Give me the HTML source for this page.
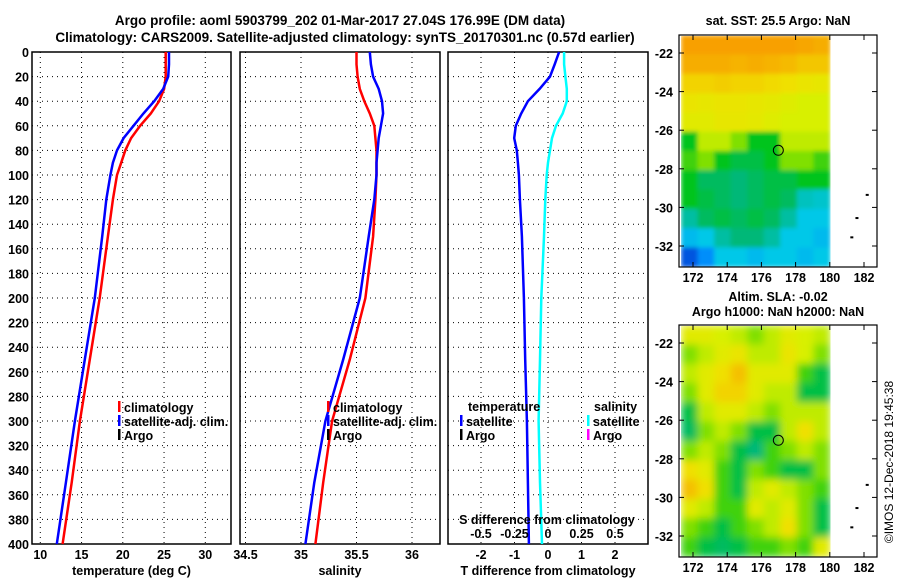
<!DOCTYPE html>
<html><head><meta charset="utf-8"><style>
body{margin:0;background:#fff;}
svg text{font-family:"Liberation Sans",sans-serif;font-weight:bold;font-size:12.5px;fill:#000;}
</style></head><body>
<svg id="c" width="900" height="580" viewBox="0 0 900 580" xmlns="http://www.w3.org/2000/svg">
<text x="340" y="25" text-anchor="middle" style="font-size:13.5px">Argo profile: aoml 5903799_202 01-Mar-2017 27.04S 176.99E (DM data)</text>
<text x="345" y="42" text-anchor="middle" style="font-size:13.5px">Climatology: CARS2009. Satellite-adjusted climatology: synTS_20170301.nc (0.57d earlier)</text>
<text x="778" y="25" text-anchor="middle">sat. SST: 25.5 Argo: NaN</text>
<text x="778" y="301" text-anchor="middle">Altim. SLA: -0.02</text>
<text x="778" y="316" text-anchor="middle">Argo h1000: NaN h2000: NaN</text>
<text transform="translate(893,462) rotate(-90)" text-anchor="middle" style="font-weight:normal;font-size:12px">©IMOS 12-Dec-2018 19:45:38</text>
</svg>
<script>
// ---- data ----
const depths = [0,10,20,30,40,50,60,70,80,90,100,120,150,200,250,300,350,400];
const tempClim = [25.2,25.2,25.2,25.0,24.4,23.4,22.1,21.0,20.3,19.8,19.3,18.8,18.2,17.2,16.0,14.8,13.8,12.7];
const tempSat  = [25.6,25.6,25.5,24.9,23.8,22.5,21.3,20.1,19.3,18.8,18.5,18.0,17.5,16.6,15.4,14.2,13.1,12.0];
const salClim = [35.50,35.50,35.51,35.53,35.57,35.62,35.66,35.67,35.68,35.68,35.68,35.67,35.65,35.58,35.44,35.28,35.20,35.13];
const salSat  = [35.62,35.63,35.65,35.70,35.73,35.74,35.72,35.70,35.69,35.68,35.68,35.66,35.61,35.53,35.38,35.22,35.12,35.04];
const tDiff = [0.33,0.20,0.06,-0.25,-0.60,-0.80,-0.96,-1.01,-0.93,-0.90,-0.87,-0.84,-0.78,-0.72,-0.68,-0.63,-0.60,-0.57];
const sDiff = [0.12,0.12,0.13,0.14,0.14,0.11,0.06,0.03,0.015,0.0,-0.01,-0.02,-0.03,-0.05,-0.06,-0.07,-0.06,-0.045];
const depthTicks = [0,20,40,60,80,100,120,140,160,180,200,220,240,260,280,300,320,340,360,380,400];
const tempTicks = [10,15,20,25,30];
const salTicks = [34.5,35,35.5,36];
const tdTicks = [-2,-1,0,1,2];
const sdTicks = [-0.5,-0.25,0,0.25,0.5];
const latTicks = [-22,-24,-26,-28,-30,-32];
const lonTicks = [172,174,176,178,180,182];
const sstGrid = [
[0.80,0.80,0.80,0.80,0.80,0.80,0.80,0.79,0.78],
[0.78,0.78,0.78,0.77,0.78,0.77,0.76,0.74,0.74],
[0.72,0.72,0.73,0.72,0.72,0.71,0.70,0.68,0.67],
[0.68,0.67,0.68,0.68,0.67,0.66,0.64,0.62,0.62],
[0.65,0.65,0.67,0.67,0.66,0.64,0.62,0.62,0.62],
[0.45,0.60,0.60,0.55,0.45,0.45,0.60,0.60,0.60],
[0.50,0.55,0.45,0.42,0.42,0.45,0.55,0.55,0.50],
[0.45,0.40,0.40,0.38,0.40,0.42,0.42,0.45,0.45],
[0.45,0.42,0.40,0.38,0.40,0.42,0.40,0.33,0.32],
[0.35,0.40,0.42,0.40,0.42,0.40,0.35,0.30,0.30],
[0.28,0.30,0.35,0.38,0.38,0.35,0.30,0.30,0.28],
[0.15,0.22,0.30,0.30,0.28,0.30,0.30,0.28,0.30]];
const slaGrid = [
[0.65,0.65,0.62,0.60,0.55,0.60,0.65,0.62,0.60],
[0.55,0.60,0.65,0.68,0.60,0.60,0.68,0.62,0.55],
[0.60,0.65,0.70,0.75,0.65,0.65,0.65,0.50,0.42],
[0.55,0.65,0.72,0.72,0.65,0.60,0.60,0.42,0.42],
[0.42,0.60,0.65,0.65,0.60,0.55,0.60,0.60,0.60],
[0.40,0.55,0.60,0.55,0.42,0.42,0.60,0.70,0.60],
[0.55,0.60,0.55,0.42,0.38,0.50,0.55,0.60,0.55],
[0.70,0.65,0.50,0.42,0.55,0.50,0.42,0.42,0.55],
[0.75,0.70,0.50,0.42,0.60,0.65,0.60,0.55,0.50],
[0.65,0.60,0.50,0.50,0.65,0.60,0.65,0.55,0.42],
[0.55,0.50,0.42,0.50,0.55,0.60,0.70,0.55,0.42],
[0.50,0.42,0.40,0.42,0.50,0.50,0.55,0.50,0.65]];
const argoLon = 176.99, argoLat = -27.04;

const svg = document.getElementById('c');
const NS = 'http://www.w3.org/2000/svg';
function mk(tag, attrs, parent){const e=document.createElementNS(NS,tag);for(const k in attrs)e.setAttribute(k,attrs[k]);(parent||svg).appendChild(e);return e;}
const yD = d => 52 + d*1.23;

function panel(name, x0, x1, xs, xticks, xlabel, fmt){
  const g = mk('g',{});
  
  
  depthTicks.forEach(d=>{
    const l = mk('line',{x1:x0,x2:x1,y1:yD(d),y2:yD(d),stroke:'#000','stroke-width':1,'stroke-dasharray':'1,4'},g);
    
    
  });
  xticks.forEach(v=>{
    const l = mk('line',{x1:xs(v),x2:xs(v),y1:52,y2:544,stroke:'#000','stroke-width':1,'stroke-dasharray':'1,4'},g);
    
    
    if(fmt){
      const t = mk('text',{x:xs(v),y:559,'text-anchor':'middle'},g);
      t.textContent = fmt(v);
      
      
    }
  });
  const r = mk('rect',{x:x0,y:52,width:x1-x0,height:492,fill:'none',stroke:'#000','stroke-width':1.5},g);
  
  
  const t = mk('text',{x:(x0+x1)/2,y:575,'text-anchor':'middle'},g);
  t.textContent = xlabel;
  
  
  return g;
}
function line(g, vals, xs, color, name){
  const p = mk('polyline',{points:vals.map((v,i)=>xs(v).toFixed(1)+','+yD(depths[i]).toFixed(1)).join(' '),fill:'none',stroke:color,'stroke-width':2.5},g);
  
  
}
function legendItem(x,y,color,label,parent){
  const m = mk('rect',{x:x-1,y:y-6,width:2.5,height:11,fill:color},parent);
  
  
  const t = mk('text',{x:x+5,y:y+5},parent);
  t.textContent = label;
  
  
}

depthTicks.forEach(d=>{
  const t = mk('text',{x:29,y:yD(d)+5,'text-anchor':'end'});
  t.textContent = d;
  
  
});

const xT = v => 40.3 + (v-10)*8.25;
const g1 = panel('temperature-panel',32,231,xT,tempTicks,'temperature (deg C)',v=>v);
line(g1,tempClim,xT,'#f00','temperature-climatology-line');
line(g1,tempSat,xT,'#00f','temperature-satellite-line');
legendItem(119,407,'#f00','climatology',g1);
legendItem(119,421,'#00f','satellite-adj. clim.',g1);
legendItem(119,435,'#000','Argo',g1);

const xS = v => 301 + (v-35)*111;
const g2 = panel('salinity-panel',240,440,xS,salTicks,'salinity',v=>v);
line(g2,salClim,xS,'#f00','salinity-climatology-line');
line(g2,salSat,xS,'#00f','salinity-satellite-line');
legendItem(328,407,'#f00','climatology',g2);
legendItem(328,421,'#00f','satellite-adj. clim.',g2);
legendItem(328,435,'#000','Argo',g2);

const xTd = v => 548 + v*33.5;
const xSd = v => 548 + v*134;
const g3 = panel('difference-panel',448,648,xTd,tdTicks,'T difference from climatology',v=>v);
line(g3,tDiff,xTd,'#00f','temperature-difference-line');
line(g3,sDiff,xSd,'#0ff','salinity-difference-line');
sdTicks.forEach(v=>{
  const t = mk('text',{x:xSd(v),y:538,'text-anchor':'middle'},g3);
  t.textContent = v;
  
  
});
const st = mk('text',{x:547,y:524,'text-anchor':'middle'},g3);
st.textContent = 'S difference from climatology';


const lt1 = mk('text',{x:468,y:411},g3);
lt1.textContent='temperature';


const lt2 = mk('text',{x:594,y:411},g3);
lt2.textContent='salinity';


legendItem(461,421,'#00f','satellite',g3);
legendItem(461,435,'#000','Argo',g3);
legendItem(588,421,'#0ff','satellite',g3);
legendItem(588,435,'#f0f','Argo',g3);

const stops=[[0.10,[0,40,190]],[0.20,[0,128,255]],[0.30,[0,200,232]],[0.38,[0,184,120]],[0.45,[0,196,30]],[0.55,[128,224,0]],[0.62,[216,240,0]],[0.70,[240,224,0]],[0.80,[248,160,0]]];
function cmap(v){
  if(v<=stops[0][0])return 'rgb('+stops[0][1]+')';
  for(let i=1;i<stops.length;i++){if(v<=stops[i][0]){const a=stops[i-1],b=stops[i],f=(v-a[0])/(b[0]-a[0]);return 'rgb('+a[1].map((c,k)=>Math.round(c+(b[1][k]-c)*f)).join(',')+')';}}
  return 'rgb('+stops[stops.length-1][1]+')';
}
const defs = mk('defs',{});
const f = mk('filter',{id:'blur',x:'0',y:'0',width:'1',height:'1'},defs);
mk('feGaussianBlur',{stdDeviation:4,edgeMode:'duplicate'},f);
const f2 = mk('filter',{id:'blur2',x:'0',y:'0',width:'1',height:'1'},defs);
mk('feGaussianBlur',{stdDeviation:2,edgeMode:'duplicate'},f2);
const cp1 = mk('clipPath',{id:'clip1'},defs); mk('rect',{x:681,y:36,width:151,height:231},cp1);
const cp2 = mk('clipPath',{id:'clip2'},defs); mk('rect',{x:681,y:326,width:151,height:231},cp2);

function map(name, grid, top, filt, clip){
  const g = mk('g',{});
  
  
  const lonX = v => 693 + (v-172)*17.1;
  const latY = v => top+18 + (-22-v)*19.3;
  const lon0=171.3, lat0=-21.07;
  const clipG = mk('g',{'clip-path':'url(#'+clip+')'},g);
  const cells = mk('g',{filter:'url(#'+filt+')'},clipG);
  grid.forEach((row,r)=>row.forEach((v,c)=>{
    const x=lonX(lon0+c*0.967), y=latY(lat0-r*1.0);
    const rc = mk('rect',{x:x.toFixed(1),y:y.toFixed(1),width:17.2,height:20,fill:cmap(v)},cells);
    
    
  }));
  mk('rect',{x:832,y:top,width:45,height:233,fill:'#fff'},g);
  const fr = mk('rect',{x:679,y:top,width:198,height:232,fill:'none',stroke:'#000','stroke-width':1.2},g);
  
  
  latTicks.forEach(v=>{
    mk('line',{x1:679,x2:684,y1:latY(v),y2:latY(v),stroke:'#000'},g);
    mk('line',{x1:872,x2:877,y1:latY(v),y2:latY(v),stroke:'#000'},g);
    const t = mk('text',{x:673,y:latY(v)+5,'text-anchor':'end'},g);
    t.textContent = v;
    
    
  });
  lonTicks.forEach(v=>{
    mk('line',{x1:lonX(v),x2:lonX(v),y1:top,y2:top+5,stroke:'#000'},g);
    mk('line',{x1:lonX(v),x2:lonX(v),y1:top+227,y2:top+232,stroke:'#000'},g);
    const t = mk('text',{x:lonX(v),y:top+247,'text-anchor':'middle'},g);
    t.textContent = v;
    
    
  });
  const ci = mk('circle',{cx:lonX(argoLon),cy:latY(argoLat),r:5,fill:'none',stroke:'#000','stroke-width':1},g);
  
  
  [[182.1,-29.3],[181.5,-30.5],[181.2,-31.5]].forEach(p=>{
    const is = mk('rect',{x:lonX(p[0]),y:latY(p[1]),width:3,height:2,fill:'#000'},g);
    
    
  });
}
map('sst-map', sstGrid, 35, 'blur2', 'clip1');
map('sla-map', slaGrid, 325, 'blur', 'clip2');
</script>
</body></html>
